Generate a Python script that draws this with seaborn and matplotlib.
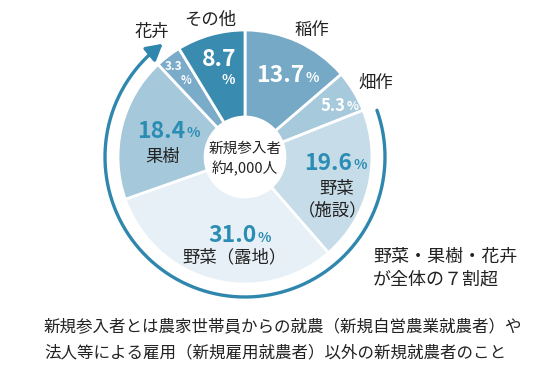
import numpy as np
import matplotlib
matplotlib.use("Agg")
import matplotlib.pyplot as plt
import seaborn as sns

# data (share of new entrants by crop, %)
categories = ["稲作", "畑作", "野菜（施設）", "野菜（露地）", "果樹", "花卉", "その他"]
shares = [13.7, 5.3, 19.6, 31.0, 18.4, 3.3, 8.7]
total_label = ["新規参入者", "約4,000人"]
note_right = ["野菜・果樹・花卉", "が全体の７割超"]
note_bottom = ["新規参入者とは農家世帯員からの就農（新規自営農業就農者）や",
               "法人等による雇用（新規雇用就農者）以外の新規就農者のこと"]

sns.set_theme(style="white")
plt.rcParams["font.family"] = ["Noto Sans CJK JP", "DejaVu Sans"]

colors = ["#76a9c6", "#a7c9dc", "#c6dde9", "#e6f0f6", "#a5c8db", "#7aabc8", "#3a8bb0"]
teal = "#2b8db3"
dark = "#222222"
ring_color = "#2f87ad"

W, H = 554, 369
fig = plt.figure(figsize=(W / 100, H / 100), dpi=100)
ax = fig.add_axes([0, 0, 1, 1])

cx, cy = 245, H - 157
R, r_hole = 127, 40
ax.pie(shares, colors=colors, startangle=90, counterclock=False,
       center=(cx, cy), radius=R,
       wedgeprops=dict(width=R - r_hole, edgecolor="white", linewidth=2))
ax.set_xlim(0, W)
ax.set_ylim(0, H)
ax.set_aspect("equal")
ax.axis("off")

# arrow ring around vegetables / fruit / flowers
ring_r = 140
theta = np.radians(np.linspace(19.5, -227, 200))
ax.plot(cx + ring_r * np.cos(theta), cy + ring_r * np.sin(theta),
        color=ring_color, lw=2.4, solid_capstyle="round")
t_end = np.radians(-234)
ax.annotate("", xy=(cx + ring_r * np.cos(t_end), cy + ring_r * np.sin(t_end)),
            xytext=(cx + ring_r * np.cos(theta[-1]), cy + ring_r * np.sin(theta[-1])),
            arrowprops=dict(arrowstyle="-|>,head_length=0.8,head_width=0.45",
                            color=ring_color, lw=2.4, shrinkA=0, shrinkB=0))


def Y(y):
    return H - y


def pct(x, y, num, size, color, psize):
    # x is the centre of the whole "num%" string
    t = ax.text(x - psize * 0.6, Y(y), num, ha="center", va="center",
                fontsize=size, fontweight="bold", color=color)
    ax.annotate("%", xy=(1, 0.12), xycoords=t, xytext=(1, 0),
                textcoords="offset points", ha="left", va="bottom",
                fontsize=psize, fontweight="bold", color=color)


# outside labels
ax.text(312, Y(30), "稲作", ha="center", va="center", fontsize=12.5, color=dark)
ax.text(376, Y(83), "畑作", ha="center", va="center", fontsize=12.5, color=dark)
ax.text(152, Y(32), "花卉", ha="center", va="center", fontsize=12.5, color=dark)
ax.text(210, Y(20), "その他", ha="center", va="center", fontsize=12.5, color=dark)

# percentages
pct(286, 76, "13.7", 16.5, "white", 10)
pct(338, 106, "5.3", 12, "white", 9)
pct(334, 163, "19.6", 16.5, teal, 10)
pct(238, 236, "31.0", 16.5, teal, 10)
pct(167, 131, "18.4", 16.5, teal, 10)
ax.text(219, Y(60), "8.7", ha="center", va="center", fontsize=16.5,
        fontweight="bold", color="white")
ax.text(228, Y(80), "%", ha="center", va="center", fontsize=10,
        fontweight="bold", color="white")
ax.text(174, Y(67), "3.3", ha="center", va="center", fontsize=8.5,
        fontweight="bold", color="white")
ax.text(186, Y(81), "%", ha="center", va="center", fontsize=8,
        fontweight="bold", color="white")

# inside labels
ax.text(163, Y(157), "果樹", ha="center", va="center", fontsize=12.5, color=dark)
ax.text(337, Y(189), "野菜", ha="center", va="center", fontsize=12.5, color=dark)
ax.text(333, Y(210), "（施設）", ha="center", va="center", fontsize=12.5, color=dark)
ax.text(234, Y(257), "野菜（露地）", ha="center", va="center", fontsize=12.5, color=dark)

# centre text
ax.text(cx, Y(149), total_label[0], ha="center", va="center", fontsize=10.5, color=dark)
ax.text(cx, Y(169), total_label[1], ha="center", va="center", fontsize=10.5, color=dark)

# notes
ax.text(373, Y(257), note_right[0], ha="left", va="center", fontsize=13, color=dark)
ax.text(373, Y(279), note_right[1], ha="left", va="center", fontsize=13, color=dark)
ax.text(44, Y(328), note_bottom[0], ha="left", va="center", fontsize=11.9, color=dark)
ax.text(44, Y(353), note_bottom[1], ha="left", va="center", fontsize=11.9, color=dark)

fig.savefig("out.png", dpi=100)
